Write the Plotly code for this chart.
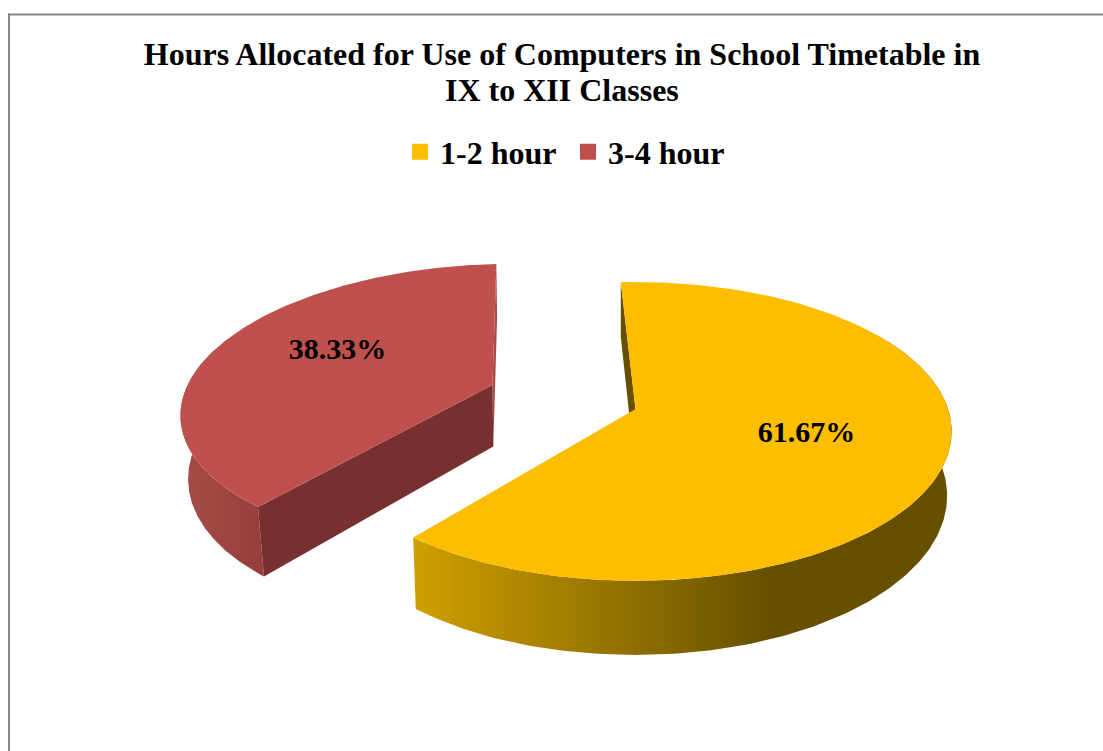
import numpy as np
import plotly.graph_objects as go

# Data
categories = ["1-2 hour", "3-4 hour"]
shares = [61.67, 38.33]
share_labels = ["61.67%", "38.33%"]
title_lines = ["Hours Allocated for Use of Computers in School Timetable in", "IX to XII Classes"]

# Colours
top_colors = ["#FDBD00", "#C0504D"]
FONT = "Liberation Serif"

# 3-D pie projection (perspective of a tilted disc), in plot units = pixels
CX, CY = 635.5, 409.0
RX, RY, K = 312.6, 146.0, 0.15
DEPTH = 63.0
VANISH_L, VANISH_R, SHRINK_L, SHRINK_R = 530.0, 650.0, 0.022, 0.015
START = -3.1
EXPLODE = [(0.0, 0.0), (-0.469, -0.168)]
FRONT = [60.0, 285.0]  # outer wall is only seen on the near side
LABEL_R = 0.56
LABEL_NUDGE = [0, -10]


def project(theta, r, off, drop=0.0):
    t = np.radians(theta)
    X = r * np.sin(t) + off[0]
    Z = -r * np.cos(t) + off[1]
    s = 1 / (1 - K * Z)
    x = CX + RX * X * s
    y = CY + RY * Z * s
    if drop:
        y = y + drop * s
        x = x + np.maximum(0, VANISH_L - x) * SHRINK_L - np.maximum(0, x - VANISH_R) * SHRINK_R
    return x, y


fig = go.Figure()
total = sum(shares)
a0 = START
arcs = []
for v in shares:
    a1 = a0 + 360 * v / total
    arcs.append((a0, a1))
    a0 = a1


def poly(px, py, **kw):
    fig.add_trace(go.Scatter(x=list(px), y=list(py), mode="lines", fill="toself",
                             line=dict(width=0), hoverinfo="skip", showlegend=False, **kw))


def radial_wall(i, ang, color):
    off = EXPLODE[i]
    x1, y1 = project(ang, 1, off)
    x2, y2 = project(ang, 1, off, DEPTH)
    x3, y3 = project(ang, 0, off, DEPTH)
    x4, y4 = project(ang, 0, off)
    poly([x1, x2, x3, x4, x1], [y1, y2, y3, y4, y1], fillcolor=color)


def outer_wall(i, a, b, grad):
    th = np.linspace(a, b, 160)
    xt, yt = project(th, 1, EXPLODE[i])
    xb, yb = project(th, 1, EXPLODE[i], DEPTH)
    poly(np.r_[xt, xb[::-1], xt[0]], np.r_[yt, yb[::-1], yt[0]],
         fillgradient=grad, fillcolor="rgba(0,0,0,0)")


def top_face(i, a, b):
    th = np.linspace(a, b, 200)
    xt, yt = project(th, 1, EXPLODE[i])
    x0, y0 = project(0.0, 0, EXPLODE[i])
    poly(np.r_[x0, xt, x0], np.r_[y0, yt, y0], fillcolor=top_colors[i])


# red slice
a, b = arcs[1]
radial_wall(1, b, "#A84A47")
outer_wall(1, a, FRONT[1], dict(type="horizontal", start=185, stop=262,
                                colorscale=[[0, "#A64B48"], [1, "#963F3C"]]))
radial_wall(1, a, "#773030")
top_face(1, a, b)

# yellow slice
a, b = arcs[0]
radial_wall(0, a, "#665000")
outer_wall(0, FRONT[0], b, dict(type="horizontal", start=415, stop=770,
                                colorscale=[[0, "#CF9F00"], [1, "#665000"]]))
top_face(0, a, b)

# value labels
for i, (a, b) in enumerate(arcs):
    lx, ly = project((a + b) / 2, LABEL_R, EXPLODE[i])
    fig.add_trace(go.Scatter(x=[lx], y=[ly + LABEL_NUDGE[i]], mode="text", text=[share_labels[i]],
                             textposition="middle center", hoverinfo="skip", showlegend=False,
                             textfont=dict(family=FONT, size=30, color="black", weight="bold")))

# legend entries
for name, color in zip(categories, top_colors):
    fig.add_trace(go.Scatter(x=[None], y=[None], mode="markers", name=name,
                             marker=dict(symbol="square", size=16, color=color)))

fig.update_layout(
    width=1103, height=751, autosize=False,
    margin=dict(l=0, r=0, t=0, b=0),
    paper_bgcolor="white", plot_bgcolor="white",
    xaxis=dict(range=[0, 1103], visible=False, fixedrange=True),
    yaxis=dict(range=[751, 0], visible=False, fixedrange=True),
    title=dict(text=title_lines[0], x=562 / 1103, xanchor="center",
               y=1 - 54 / 751, yanchor="middle",
               font=dict(family=FONT, size=32, color="black", weight="bold")),
    annotations=[dict(text=title_lines[1], xref="paper", yref="paper", x=562 / 1103, xanchor="center",
                      y=1 - 90 / 751, yanchor="middle", showarrow=False,
                      font=dict(family=FONT, size=32, color="black", weight="bold"))],
    legend=dict(orientation="h", x=400 / 1103, xanchor="left", y=1 - 152 / 751, yanchor="middle",
                font=dict(family=FONT, size=32, color="black", weight="bold"),
                itemsizing="trace", entrywidth=123, entrywidthmode="pixels",
                bgcolor="rgba(0,0,0,0)"),
    shapes=[
        dict(type="line", xref="x", yref="y", x0=8, x1=1103, y0=14.5, y1=14.5,
             line=dict(color="#868686", width=2)),
        dict(type="line", xref="x", yref="y", x0=9, x1=9, y0=13.5, y1=751,
             line=dict(color="#868686", width=2)),
    ],
)

fig.write_html("out.html", config={"displayModeBar": False},
               post_script="document.body.style.margin='0';document.body.style.overflow='hidden';")
